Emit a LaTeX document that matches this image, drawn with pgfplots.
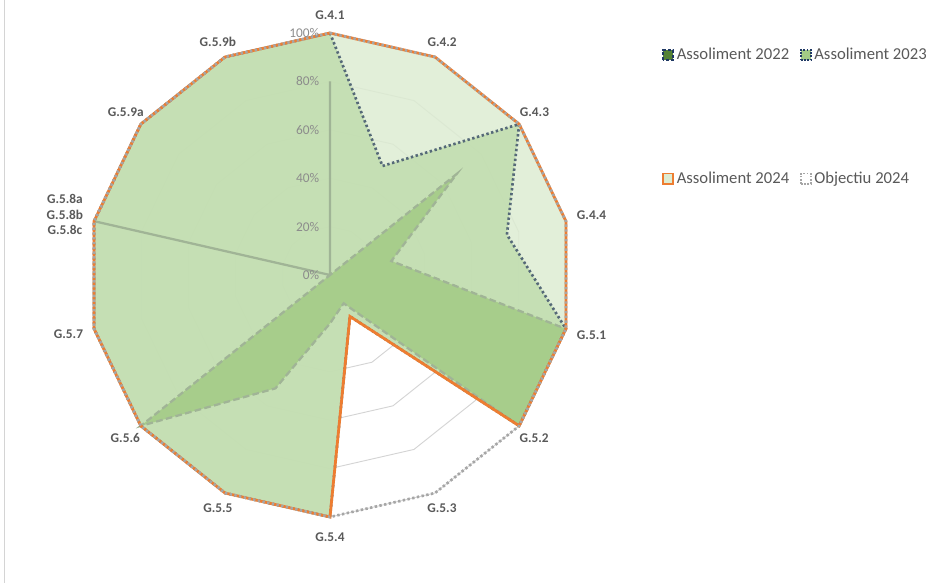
\documentclass[border=0pt]{standalone}
\usepackage{fontspec}
\setmainfont{Carlito}
\usepackage{pgfplots}
\usepackage{pgfplotstable}
\pgfplotsset{compat=1.18}
\usepgfplotslibrary{polar}

\definecolor{fillA}{RGB}{163,203,133}
\definecolor{fillB}{RGB}{193,221,174}
\definecolor{fillC}{RGB}{221,236,210}
\definecolor{lineA}{RGB}{160,180,150}
\definecolor{lineB}{RGB}{85,105,120}
\definecolor{lineC}{RGB}{237,125,49}
\definecolor{lineD}{RGB}{166,166,166}
\definecolor{gridc}{RGB}{212,212,212}
\definecolor{labc}{RGB}{89,89,89}
\definecolor{tickc}{RGB}{140,140,140}
\definecolor{navy}{RGB}{31,56,100}
\definecolor{leggreen}{RGB}{84,130,53}

% angle (deg, first category on top, clockwise), values in %
\pgfplotstableread{
ang        a22  a23  a24  obj
90         80   100  100  100
64.2857    0    50   100  100
38.5714    67   100  100  100
12.8571    26   75   100  100
-12.8571   100  100  100  100
-38.5714   100  100  100  100
-64.2857   13   19   19   100
-90        20   100  100  100
-115.7143  52   100  100  100
-141.4286  100  100  100  100
-167.1429  0    100  100  100
-192.8571  100  100  100  100
-218.5714  0    100  100  100
-244.2857  0    100  100  100
-270       80   100  100  100
}\radar

\begin{document}
\begin{tikzpicture}
\path[use as bounding box] (0,0) rectangle (699.75pt,-437.25pt);
\draw[gridc, line width=0.75pt] (3pt,0) -- (3pt,-437.25pt);
\begin{polaraxis}[
    at={(247.5pt,-206.25pt)}, anchor=origin,
    scale only axis, width=363pt, height=363pt,
    ymin=0, ymax=100,
    hide axis, clip=false,
    legend columns=2,
    legend style={draw=none, fill=none, at={(1.178,0.98)}, anchor=north west,
        row sep=78.5pt, font=\fontsize{12.5}{14}\selectfont, text=labc,
        /tikz/every even column/.append style={column sep=6pt}},
    legend cell align=left,
]
% polygon grid
\pgfplotsinvokeforeach{20,40,60,80,100}{
  \addplot[gridc, line width=0.7pt, forget plot] table[x=ang, y expr=#1] {\radar};
}
% fills
\addplot[draw=none, fill=fillC, fill opacity=0.85, forget plot] table[x=ang, y=a24] {\radar};
\addplot[draw=none, fill=fillB, fill opacity=0.85, forget plot] table[x=ang, y=a23] {\radar};
\addplot[draw=none, fill=fillA, fill opacity=0.85, forget plot] table[x=ang, y=a22] {\radar};
% outlines
\addplot[lineA, line width=1.7pt, dash pattern=on 5pt off 2.5pt,
    legend image code/.code={\draw[navy, fill=leggreen, line width=1.3pt, dash pattern=on 2.5pt off 1.2pt] (0pt,-3.8pt) rectangle (7.5pt,3.8pt);}]
    table[x=ang, y=a22] {\radar};
\addlegendentry{Assoliment 2022}
\addplot[lineB, line width=2pt, dash pattern=on 1.8pt off 1.9pt,
    legend image code/.code={\draw[navy, fill=fillA, line width=1.3pt, dash pattern=on 1.2pt off 1.2pt] (0pt,-3.8pt) rectangle (7.5pt,3.8pt);}]
    table[x=ang, y=a23] {\radar};
\addlegendentry{Assoliment 2023}
\addplot[lineC, line width=2.1pt,
    legend image code/.code={\draw[lineC, fill=fillC, line width=1.3pt] (0pt,-3.8pt) rectangle (7.5pt,3.8pt);}]
    table[x=ang, y=a24] {\radar};
\addlegendentry{Assoliment 2024}
\addplot[lineD, line width=2pt, dash pattern=on 1.8pt off 1.8pt,
    legend image code/.code={\draw[lineD, line width=1.3pt, dash pattern=on 1.2pt off 1.2pt] (0pt,-3.8pt) rectangle (7.5pt,3.8pt);}]
    table[x=ang, y=obj] {\radar};
\addlegendentry{Objectiu 2024}
% radial tick labels
\pgfplotsinvokeforeach{0,20,40,60,80,100}{
  \node[anchor=east, text=tickc, font=\fontsize{10}{12}\selectfont, xshift=-8pt, inner sep=0pt] at (axis cs:90,#1) {#1\%};
}
% category labels
\begin{scope}[every node/.style={text=labc, font=\fontsize{10}{11.6}\selectfont\bfseries, inner sep=1pt}]
\node[anchor=270]    at (axis cs:90,105)        {G.4.1};
\node[anchor=244.29] at (axis cs:64.2857,104)   {G.4.2};
\node[anchor=218.57] at (axis cs:38.5714,104)   {G.4.3};
\node[anchor=192.86] at (axis cs:12.8571,104)   {G.4.4};
\node[anchor=167.14] at (axis cs:-12.8571,104)  {G.5.1};
\node[anchor=141.43] at (axis cs:-38.5714,104)  {G.5.2};
\node[anchor=115.71] at (axis cs:-64.2857,104)  {G.5.3};
\node[anchor=90]     at (axis cs:-90,106)       {G.5.4};
\node[anchor=64.29]  at (axis cs:-115.7143,104) {G.5.5};
\node[anchor=38.57]  at (axis cs:-141.4286,104) {G.5.6};
\node[anchor=12.86]  at (axis cs:-167.1429,104) {G.5.7};
\node[anchor=347.14, align=center] at (axis cs:-192.8571,104) {G.5.8a\\G.5.8b\\G.5.8c};
\node[anchor=321.43] at (axis cs:-218.5714,104) {G.5.9a};
\node[anchor=295.71] at (axis cs:-244.2857,104) {G.5.9b};
\end{scope}
\end{polaraxis}
\end{tikzpicture}
\end{document}
